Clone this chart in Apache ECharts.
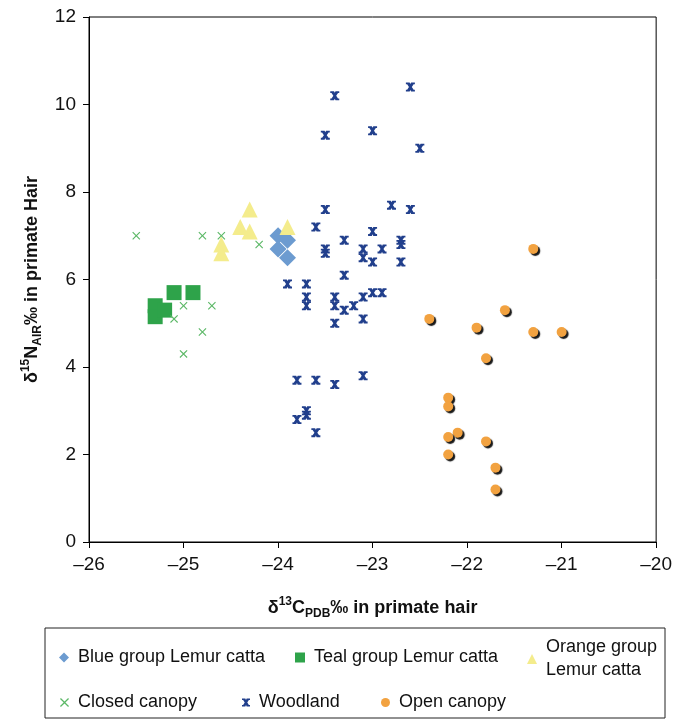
<!DOCTYPE html>
<html>
<head>
<meta charset="utf-8">
<script src="https://cdn.jsdelivr.net/npm/echarts@6/dist/echarts.min.js"></script>
<style>
  html, body { margin: 0; padding: 0; background: #fff; }
  #main { width: 675px; height: 719px; }
</style>
</head>
<body>
<div id="main"></div>
<script>
// values: [d13C, d15N]
var blueGroup = [[-24.0, 7.0], [-24.0, 6.7], [-23.9, 6.9], [-23.9, 6.5]];
var tealGroup = [[-25.3, 5.4], [-25.3, 5.15], [-25.2, 5.3], [-25.1, 5.7], [-24.9, 5.7]];
var orangeGroup = [[-24.3, 7.6], [-24.4, 7.2], [-24.3, 7.1], [-24.6, 6.8], [-24.6, 6.6], [-23.9, 7.2]];
var closedCanopy = [[-25.5, 7.0], [-24.8, 7.0], [-24.6, 7.0], [-24.2, 6.8], [-25.1, 5.1],
  [-25.0, 5.4], [-24.7, 5.4], [-24.8, 4.8], [-25.0, 4.3]];
var woodland = [[-22.6, 10.4], [-23.4, 10.2], [-23.5, 9.3], [-23.0, 9.4], [-22.5, 9.0],
  [-23.5, 7.6], [-22.8, 7.7], [-22.6, 7.6], [-23.6, 7.2], [-23.3, 6.9], [-23.0, 7.1],
  [-22.7, 6.9], [-22.7, 6.8], [-23.5, 6.7], [-23.5, 6.6], [-23.1, 6.7], [-23.1, 6.5],
  [-22.9, 6.7], [-23.0, 6.4], [-22.7, 6.4], [-23.3, 6.1], [-23.9, 5.9], [-23.7, 5.9],
  [-23.7, 5.6], [-23.7, 5.4], [-23.4, 5.6], [-23.4, 5.4], [-23.3, 5.3], [-23.2, 5.4],
  [-23.1, 5.6], [-23.0, 5.7], [-22.9, 5.7], [-23.4, 5.0], [-23.1, 5.1], [-23.1, 3.8],
  [-23.8, 3.7], [-23.6, 3.7], [-23.4, 3.6], [-23.7, 3.0], [-23.7, 2.9], [-23.8, 2.8], [-23.6, 2.5]];
var openCanopy = [[-21.3, 6.7], [-21.6, 5.3], [-22.4, 5.1], [-21.9, 4.9], [-21.3, 4.8],
  [-21.0, 4.8], [-21.8, 4.2], [-22.2, 3.3], [-22.2, 3.1], [-22.1, 2.5], [-22.2, 2.4],
  [-21.8, 2.3], [-22.2, 2.0], [-21.7, 1.7], [-21.7, 1.2]];

var names = ['Blue group Lemur catta', 'Teal group Lemur catta', 'Orange group\nLemur catta',
  'Closed canopy', 'Woodland', 'Open canopy'];

var crossPath = 'path://M0,1L1,0L5,4L9,0L10,1L6,5L10,9L9,10L5,6L1,10L0,9L4,5Z';
var starPath = 'path://M0,0H4.2L5,1.8L5.8,0H10V2H8.6L6.6,5L8.6,8H10V10H5.8L5,8.2L4.2,10H0V8H1.4L3.4,5L1.4,2H0Z';

var font = 'Liberation Sans, Arial, sans-serif';

function legendAt(name, icon, left, top, size) {
  return {
    data: [{ name: name, icon: icon }],
    left: left, top: top,
    itemWidth: size, itemHeight: size, itemGap: 6,
    textStyle: { fontFamily: font, fontSize: 18, color: '#111', lineHeight: 23, padding: [0, 0, 0, 4] }
  };
}

var nameRich = {
  b: { fontSize: 18, fontWeight: 'bold', color: '#111', fontFamily: font, lineHeight: 24 },
  sup: { fontSize: 12, fontWeight: 'bold', color: '#111', fontFamily: font, verticalAlign: 'top', lineHeight: 24 },
  sub: { fontSize: 12, fontWeight: 'bold', color: '#111', fontFamily: font, verticalAlign: 'bottom', lineHeight: 18 }
};

var chart = echarts.init(document.getElementById('main'));
chart.setOption({
  animation: false,
  textStyle: { fontFamily: font },
  grid: { left: 89, right: 17, top: 17, bottom: 177, show: true, borderColor: '#000', borderWidth: 1 },
  graphic: [{
    type: 'rect', shape: { x: 45, y: 628, width: 620, height: 90 },
    style: { fill: 'none', stroke: '#222', lineWidth: 1 }
  }],
  legend: [
    legendAt(names[0], 'diamond', 54, 641, 10),
    legendAt(names[1], 'rect', 290, 641, 10),
    legendAt(names[2], 'triangle', 522, 631, 10),
    legendAt(names[3], crossPath, 55, 686, 9),
    legendAt(names[4], starPath, 237, 686, 8),
    legendAt(names[5], 'circle', 376, 686, 9)
  ],
  xAxis: {
    type: 'value', min: -26, max: -20, interval: 1,
    axisLine: { show: true, onZero: false, lineStyle: { color: '#000' } },
    axisTick: { show: true, length: 6, lineStyle: { color: '#000' } },
    splitLine: { show: false },
    axisLabel: {
      fontSize: 19, color: '#111', margin: 13,
      formatter: function (v) { return v < 0 ? '\u2013' + Math.abs(v) : String(v); }
    },
    name: '{b|\u03b4}{sup|13}{b|C}{sub|PDB}{b|\u2030 in primate hair}',
    nameLocation: 'middle', nameGap: 54,
    nameTextStyle: { rich: nameRich }
  },
  yAxis: {
    type: 'value', min: 0, max: 12, interval: 2,
    axisLine: { show: true, onZero: false, lineStyle: { color: '#000' } },
    axisTick: { show: true, length: 6, lineStyle: { color: '#000' } },
    splitLine: { show: false },
    axisLabel: { fontSize: 19, color: '#111', margin: 13 },
    name: '{b|\u03b4}{sup|15}{b|N}{sub|AIR}{b|\u2030 in primate Hair}',
    nameLocation: 'middle', nameGap: 41, nameRotate: 90,
    nameTextStyle: { rich: nameRich }
  },
  series: [
    { name: names[0], type: 'scatter', symbol: 'diamond', symbolSize: 17, data: blueGroup,
      itemStyle: { color: '#6C9BD0', opacity: 1 } },
    { name: names[1], type: 'scatter', symbol: 'rect', symbolSize: 15, data: tealGroup,
      itemStyle: { color: '#2EA34A', opacity: 1 } },
    { name: names[2], type: 'scatter', symbol: 'triangle', symbolSize: 16, data: orangeGroup,
      itemStyle: { color: '#F4EC8C', opacity: 1 } },
    { name: names[3], type: 'scatter', symbol: crossPath, symbolSize: 8, data: closedCanopy,
      itemStyle: { color: '#5BB866', opacity: 1 } },
    { name: names[4], type: 'scatter', symbol: starPath, symbolSize: 9, data: woodland,
      itemStyle: { color: '#213F8C', opacity: 1 } },
    { name: names[5], type: 'scatter', symbol: 'circle', symbolSize: 10, data: openCanopy,
      itemStyle: { color: '#F2A240', opacity: 1, shadowColor: '#1a1a1a', shadowBlur: 1,
        shadowOffsetX: 2, shadowOffsetY: 2 } }
  ]
});
</script>
</body>
</html>
